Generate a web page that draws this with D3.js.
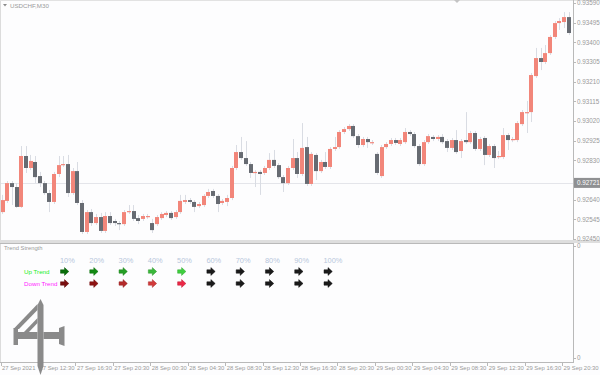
<!DOCTYPE html>
<html>
<head>
<meta charset="utf-8">
<script src="https://cdn.jsdelivr.net/npm/d3@7"></script>
<style>
body { margin: 0; background: #fff; }
text { font-family: "Liberation Sans", Arial, sans-serif; }
</style>
</head>
<body>
<script>
const width = 600;
const height = 375;

// ---- data ----
const opens = [
0.92580,0.92634,0.92720,0.92701,0.92605,0.92851,0.92793,0.92822,0.92754,0.92720,
0.92672,0.92629,0.92764,0.92807,0.92812,0.92672,0.92778,0.92624,0.92484,0.92580,
0.92527,0.92556,0.92489,0.92561,0.92537,0.92527,0.92522,0.92580,0.92585,0.92551,
0.92547,0.92556,0.92527,0.92522,0.92551,0.92566,0.92576,0.92556,0.92580,0.92629,
0.92638,0.92629,0.92609,0.92614,0.92658,0.92682,0.92658,0.92624,0.92629,0.92648,
0.92793,0.92870,0.92841,0.92812,0.92769,0.92774,0.92769,0.92793,0.92832,0.92807,
0.92749,0.92720,0.92793,0.92841,0.92764,0.92894,0.92716,0.92856,0.92778,0.92822,
0.92798,0.92885,0.92894,0.92967,0.92981,0.92996,0.92947,0.92904,0.92933,0.92914,
0.92861,0.92754,0.92894,0.92909,0.92928,0.92909,0.92918,0.92967,0.92957,0.92899,
0.92812,0.92918,0.92943,0.92933,0.92943,0.92923,0.92890,0.92928,0.92875,0.92928,
0.92918,0.92962,0.92885,0.92938,0.92856,0.92899,0.92846,0.92846,0.92952,0.92928,
0.92928,0.93005,0.93059,0.93063,0.93237,0.93324,0.93305,0.93348,0.93426,0.93493,
0.93498,0.93522
];
const highs = [
0.92663,0.92730,0.92730,0.92720,0.92899,0.92899,0.92856,0.92851,0.92774,0.92730,
0.92687,0.92774,0.92851,0.92851,0.92856,0.92793,0.92822,0.92638,0.92590,0.92595,
0.92571,0.92576,0.92580,0.92580,0.92547,0.92537,0.92590,0.92614,0.92614,0.92566,
0.92571,0.92571,0.92547,0.92566,0.92580,0.92585,0.92585,0.92590,0.92663,0.92663,
0.92648,0.92638,0.92629,0.92667,0.92692,0.92692,0.92667,0.92643,0.92663,0.92803,
0.92904,0.92943,0.92923,0.92822,0.92783,0.92783,0.92803,0.92865,0.92880,0.92817,
0.92759,0.92803,0.92933,0.92870,0.93010,0.92943,0.92870,0.92865,0.92832,0.92870,
0.92894,0.92943,0.92976,0.92991,0.93005,0.93005,0.92957,0.92943,0.92943,0.92928,
0.92870,0.92904,0.92918,0.92938,0.92938,0.92938,0.92986,0.92976,0.92967,0.92909,
0.92928,0.92957,0.92952,0.92952,0.92957,0.92933,0.92938,0.92976,0.92933,0.93063,
0.92972,0.92972,0.92943,0.92947,0.92909,0.92909,0.92875,0.92986,0.92962,0.92943,
0.93020,0.93073,0.93117,0.93252,0.93373,0.93373,0.93387,0.93435,0.93503,0.93517,
0.93546,0.93546
];
const lows = [
0.92571,0.92624,0.92614,0.92600,0.92600,0.92769,0.92783,0.92720,0.92701,0.92663,
0.92580,0.92619,0.92749,0.92798,0.92653,0.92663,0.92614,0.92474,0.92474,0.92513,
0.92518,0.92479,0.92479,0.92518,0.92513,0.92493,0.92513,0.92571,0.92537,0.92522,
0.92537,0.92547,0.92479,0.92513,0.92542,0.92556,0.92542,0.92547,0.92571,0.92619,
0.92619,0.92580,0.92600,0.92605,0.92648,0.92648,0.92580,0.92614,0.92609,0.92638,
0.92783,0.92832,0.92803,0.92745,0.92701,0.92663,0.92759,0.92783,0.92793,0.92740,
0.92677,0.92711,0.92783,0.92745,0.92754,0.92706,0.92706,0.92735,0.92769,0.92788,
0.92788,0.92875,0.92885,0.92957,0.92972,0.92938,0.92890,0.92894,0.92890,0.92904,
0.92759,0.92745,0.92885,0.92899,0.92904,0.92899,0.92909,0.92947,0.92890,0.92803,
0.92803,0.92909,0.92923,0.92923,0.92909,0.92870,0.92880,0.92861,0.92841,0.92909,
0.92909,0.92875,0.92875,0.92807,0.92846,0.92793,0.92836,0.92836,0.92880,0.92918,
0.92918,0.92996,0.92962,0.93015,0.93228,0.93266,0.93295,0.93339,0.93416,0.93460,
0.93469,0.93435
];
const closes = [
0.92638,0.92720,0.92701,0.92605,0.92851,0.92793,0.92827,0.92749,0.92720,0.92672,
0.92629,0.92764,0.92807,0.92812,0.92672,0.92778,0.92624,0.92484,0.92580,0.92527,
0.92556,0.92489,0.92561,0.92527,0.92527,0.92522,0.92580,0.92585,0.92547,0.92537,
0.92561,0.92561,0.92493,0.92556,0.92571,0.92576,0.92551,0.92580,0.92634,0.92638,
0.92629,0.92605,0.92619,0.92658,0.92677,0.92658,0.92619,0.92634,0.92648,0.92793,
0.92870,0.92841,0.92812,0.92769,0.92774,0.92764,0.92793,0.92832,0.92803,0.92749,
0.92720,0.92793,0.92841,0.92764,0.92890,0.92716,0.92861,0.92778,0.92822,0.92798,
0.92885,0.92894,0.92967,0.92981,0.92996,0.92947,0.92904,0.92933,0.92918,0.92918,
0.92769,0.92894,0.92909,0.92928,0.92914,0.92928,0.92967,0.92957,0.92899,0.92812,
0.92918,0.92947,0.92933,0.92943,0.92918,0.92890,0.92928,0.92870,0.92923,0.92918,
0.92962,0.92885,0.92933,0.92856,0.92899,0.92841,0.92851,0.92952,0.92928,0.92933,
0.93010,0.93063,0.93063,0.93242,0.93324,0.93305,0.93348,0.93426,0.93493,0.93503,
0.93522,0.93445
];

const priceTicks = [0.92450,0.92545,0.92640,0.92735,0.92830,0.92925,0.93020,0.93115,0.93210,0.93305,0.93400,0.93495,0.93590];
const hLinePrice = 0.92721;

const timeLabels = ['27 Sep 2021','27 Sep 12:30','27 Sep 16:30','27 Sep 20:30','28 Sep 00:30','28 Sep 04:30',
  '28 Sep 08:30','28 Sep 12:30','28 Sep 16:30','28 Sep 20:30','29 Sep 00:30','29 Sep 04:30',
  '29 Sep 08:30','29 Sep 12:30','29 Sep 16:30','29 Sep 20:30'];
const timeLabelBars = [0,8,16,24,32,40,48,56,64,72,80,88,96,104,112,120];

const strengthLabels = ['10%','20%','30%','40%','50%','60%','70%','80%','90%','100%'];
const trendNames = ['Up Trend','Down Trend'];

// styles
const upArrowColors = ['#0a6e0a','#128a12','#259f25','#3ab83a','#3fcf3f','#1a1a1a','#1a1a1a','#1a1a1a','#1a1a1a','#1a1a1a'];
const downArrowColors = ['#7a0f0f','#8e1212','#b52a2a','#d23a3a','#ec2746','#1a1a1a','#1a1a1a','#1a1a1a','#1a1a1a','#1a1a1a'];
const trendNameColors = ['#22ee22','#ff22ff'];
const bullColor = '#f2867a';
const bearColor = '#676b72';
const wickColor = '#d9dce3';
const axisText = '#9a9a9a';
const frameColor = '#b9b9b9';

const plotRight = 573;
const mainBottom = 240;
const subTop = 243;
const subBottom = 362;

const svg = d3.select('body')
  .append('svg')
  .attr('width', width)
  .attr('height', height);

svg.append('rect')
  .attr('width', width).attr('height', height)
  .attr('fill', '#fdfdfe');

// scales
const x = d3.scaleBand()
  .domain(d3.range(opens.length))
  .range([0.5, 570.5])
  .paddingInner(0.2)
  .paddingOuter(0);

const y = d3.scaleLinear()
  .domain([0.92450, 0.93590])
  .range([239, 3]);

// horizontal line object
svg.append('line')
  .attr('x1', 0).attr('x2', plotRight)
  .attr('y1', Math.round(y(hLinePrice)) + 0.5)
  .attr('y2', Math.round(y(hLinePrice)) + 0.5)
  .attr('stroke', '#e4e5ea');

// candles
const candles = svg.append('g');
const bars = d3.range(opens.length);

candles.selectAll('line.wick')
  .data(bars)
  .enter()
  .append('line')
  .attr('class', 'wick')
  .attr('x1', i => Math.round(x(i) + x.bandwidth() / 2) + 0.5)
  .attr('x2', i => Math.round(x(i) + x.bandwidth() / 2) + 0.5)
  .attr('y1', i => y(highs[i]))
  .attr('y2', i => y(lows[i]))
  .attr('stroke', wickColor)
  .attr('stroke-width', 1);

candles.selectAll('rect.body')
  .data(bars)
  .enter()
  .append('rect')
  .attr('class', 'body')
  .attr('x', i => Math.round(x(i)))
  .attr('width', Math.round(x.bandwidth()))
  .attr('y', i => y(Math.max(opens[i], closes[i])))
  .attr('height', i => Math.max(1.2, Math.abs(y(opens[i]) - y(closes[i]))))
  .attr('fill', i => closes[i] >= opens[i] ? bullColor : bearColor);

// frames
svg.append('line')
  .attr('x1', 0.5).attr('x2', 0.5).attr('y1', 0).attr('y2', subBottom)
  .attr('stroke', '#dcdcdc');
svg.append('line')
  .attr('x1', 0).attr('x2', width).attr('y1', 0.5).attr('y2', 0.5)
  .attr('stroke', '#e2e2e2');
svg.append('line')
  .attr('x1', plotRight + 0.5).attr('x2', plotRight + 0.5).attr('y1', 0).attr('y2', subBottom)
  .attr('stroke', frameColor);
svg.append('rect')
  .attr('x', 0).attr('y', mainBottom).attr('width', width).attr('height', 3)
  .attr('fill', '#dedede');
svg.append('line')
  .attr('x1', 0).attr('x2', plotRight).attr('y1', subTop + 0.5).attr('y2', subTop + 0.5)
  .attr('stroke', frameColor);
svg.append('line')
  .attr('x1', 0).attr('x2', plotRight + 1).attr('y1', subBottom + 0.5).attr('y2', subBottom + 0.5)
  .attr('stroke', frameColor);

// shift marker at top
svg.append('path')
  .attr('d', 'M454,0 L460,0 L457,3 Z')
  .attr('fill', '#c4c4c4');

// price axis (the tick hidden behind the line label is skipped)
const shownTicks = priceTicks.filter(d => Math.abs(y(d) - y(hLinePrice)) > 6);
const pAxis = svg.append('g');
pAxis.selectAll('line')
  .data(priceTicks)
  .enter()
  .append('line')
  .attr('x1', plotRight).attr('x2', plotRight + 3)
  .attr('y1', d => Math.round(y(d)) + 0.5)
  .attr('y2', d => Math.round(y(d)) + 0.5)
  .attr('stroke', frameColor);
pAxis.selectAll('text')
  .data(shownTicks)
  .enter()
  .append('text')
  .attr('x', 577)
  .attr('y', d => y(d) + 2.3)
  .attr('font-size', 6.3)
  .attr('fill', axisText)
  .text(d => d.toFixed(5));

// line label
svg.append('rect')
  .attr('x', plotRight + 1).attr('y', y(hLinePrice) - 5)
  .attr('width', 26).attr('height', 10)
  .attr('fill', '#8f9092');
svg.append('text')
  .attr('x', 577).attr('y', y(hLinePrice) + 2.3)
  .attr('font-size', 6.3)
  .attr('fill', '#ffffff')
  .text(hLinePrice.toFixed(5));

// title
svg.append('path')
  .attr('d', 'M3,4 L7,4 L5,6.5 Z')
  .attr('fill', '#8a8a8a');
svg.append('text')
  .attr('x', 10).attr('y', 8)
  .attr('font-size', 6.2)
  .attr('fill', axisText)
  .text('USDCHF,M30');

// time axis
const tAxis = svg.append('g');
tAxis.selectAll('line')
  .data(timeLabelBars)
  .enter()
  .append('line')
  .attr('x1', d => Math.round(x(d)) + 0.5)
  .attr('x2', d => Math.round(x(d)) + 0.5)
  .attr('y1', subBottom).attr('y2', subBottom + 4)
  .attr('stroke', frameColor);
tAxis.selectAll('text')
  .data(timeLabels)
  .enter()
  .append('text')
  .attr('x', (d, i) => x(timeLabelBars[i]) + 1.5)
  .attr('y', 370)
  .attr('font-size', 5.9)
  .attr('fill', axisText)
  .text(d => d);

// ---- Trend Strength subwindow ----
svg.append('text')
  .attr('x', 4).attr('y', 249.5)
  .attr('font-size', 5.8)
  .attr('fill', axisText)
  .text('Trend Strength');

const sub = d3.scaleLinear().domain([0, 1]).range([subBottom - 4, subTop + 3]);
svg.selectAll('text.zero')
  .data([0, 1])
  .enter()
  .append('text')
  .attr('class', 'zero')
  .attr('x', 577)
  .attr('y', d => sub(d) + 2.3)
  .attr('font-size', 6.3)
  .attr('fill', axisText)
  .text('0');
svg.selectAll('line.zero')
  .data([0, 1])
  .enter()
  .append('line')
  .attr('class', 'zero')
  .attr('x1', plotRight).attr('x2', plotRight + 3)
  .attr('y1', d => Math.round(sub(d)) + 0.5)
  .attr('y2', d => Math.round(sub(d)) + 0.5)
  .attr('stroke', frameColor);

const col = d3.scalePoint().domain(strengthLabels).range([64.5, 328]);
const row = d3.scalePoint().domain(trendNames).range([271.5, 283.5]);

svg.selectAll('text.pct')
  .data(strengthLabels)
  .enter()
  .append('text')
  .attr('class', 'pct')
  .attr('x', d => col(d) - 4.5)
  .attr('y', 262.5)
  .attr('font-size', 7.4)
  .attr('fill', '#b7c7dc')
  .text(d => d);

svg.selectAll('text.trend')
  .data(trendNames)
  .enter()
  .append('text')
  .attr('class', 'trend')
  .attr('x', 24)
  .attr('y', d => row(d) + 2.3)
  .attr('font-size', 6.2)
  .attr('fill', (d, i) => trendNameColors[i])
  .text(d => d);

// heavy right arrow glyph
const arrowPath = 'M-4,-1.7 L0,-1.7 L0,-3.9 L4.3,0 L0,3.9 L0,1.7 L-4,1.7 Z';
const arrowData = [];
trendNames.forEach((t, r) => {
  strengthLabels.forEach((s, c) => {
    arrowData.push({ t: t, s: s, color: r === 0 ? upArrowColors[c] : downArrowColors[c] });
  });
});
svg.selectAll('path.arrow')
  .data(arrowData)
  .enter()
  .append('path')
  .attr('class', 'arrow')
  .attr('transform', d => 'translate(' + col(d.s) + ',' + row(d.t) + ')')
  .attr('d', arrowPath)
  .attr('fill', d => d.color)
  .attr('stroke', d => d3.color(d.color).darker(0.6))
  .attr('stroke-width', 0.5);

// logo
const logo = svg.append('g').attr('fill', '#8a8a8a');
logo.append('path').attr('d', 'M40.5,299 L43.5,305 L43.5,366 L40.5,375 L37.5,366 L37.5,305 Z');
logo.append('path').attr('d', 'M37.5,304 L37.5,310 L19,329 L13.5,329 Z');
logo.append('path').attr('d', 'M37.5,318 L37.5,323 L29,332 L24,332 Z');
logo.append('path').attr('d', 'M13.5,328 L18,328 L18,345 L13.5,345 Z');
logo.append('path').attr('d', 'M18,332 L37.5,332 L37.5,339 L18,339 Z');
logo.append('path').attr('d', 'M43.5,332 L59,332 L59,339 L43.5,339 Z');
logo.append('path').attr('d', 'M59,328 L64.5,326 L64.5,346 L59,344 Z');
</script>
</body>
</html>
